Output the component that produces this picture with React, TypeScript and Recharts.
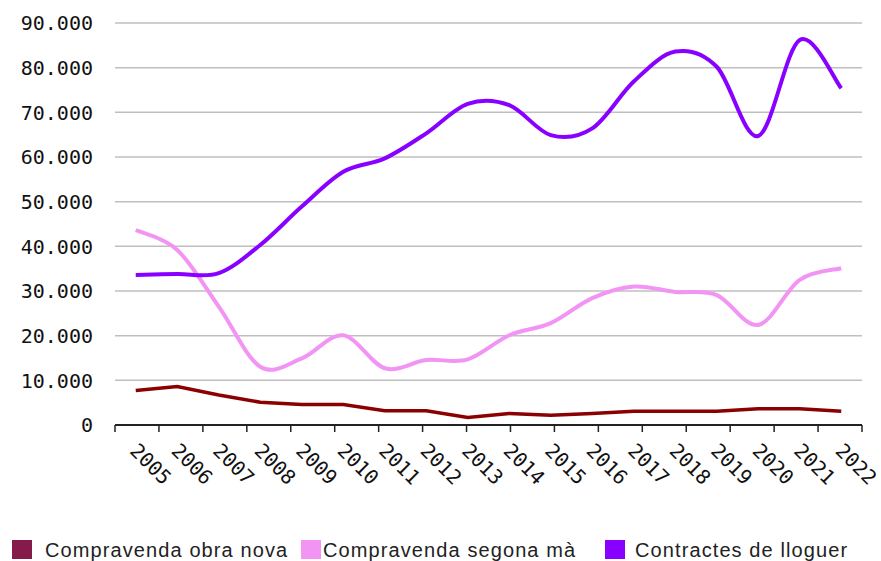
import React from 'react';
import { LineChart, Line, XAxis, YAxis, CartesianGrid } from 'recharts';

const years = ['2005', '2006', '2007', '2008', '2009', '2010', '2011', '2012', '2013', '2014', '2015', '2016', '2017', '2018', '2019', '2020', '2021', '2022'];
const obraNova = [7700, 8600, 6700, 5100, 4600, 4600, 3200, 3200, 1700, 2600, 2200, 2600, 3100, 3100, 3100, 3650, 3650, 3100];
const segonaMa = [43650, 39200, 26500, 13050, 14900, 20100, 12700, 14550, 14700, 20100, 22800, 28400, 31000, 29800, 29100, 22400, 32500, 35100];
const lloguer = [33600, 33800, 34000, 40300, 48900, 56700, 59700, 65300, 71900, 71600, 64900, 66400, 76900, 83600, 80200, 64700, 86200, 75400];
const yTicks = [0, 10000, 20000, 30000, 40000, 50000, 60000, 70000, 80000, 90000];

const seriesNames = ['Compravenda obra nova', 'Compravenda segona mà', 'Contractes de lloguer'];
const lineColors = ['#8B0000', '#F294F4', '#8800FF'];
const swatchColors = ['#841B4A', '#F294F4', '#8800FF'];

const data = years.map((year, i) => ({
  year,
  obra: obraNova[i],
  segona: segonaMa[i],
  lloguer: lloguer[i],
}));

const boundaryTicks = Array.from({ length: years.length + 1 }, (_, i) => i);

// Catmull-Rom style smoothing (like spreadsheet "smoothed line")
const smoothCurve = (context: any) => {
  let xs: number[] = [];
  let ys: number[] = [];
  return {
    areaStart() {},
    areaEnd() {},
    lineStart() {
      xs = [];
      ys = [];
    },
    point(x: number, y: number) {
      xs.push(+x);
      ys.push(+y);
    },
    lineEnd() {
      const n = xs.length;
      if (!n) return;
      context.moveTo(xs[0], ys[0]);
      for (let i = 0; i < n - 1; i++) {
        const p0 = Math.max(0, i - 1);
        const p3 = Math.min(n - 1, i + 2);
        const c1x = xs[i] + (xs[i + 1] - xs[p0]) / 6;
        const c1y = ys[i] + (ys[i + 1] - ys[p0]) / 6;
        const c2x = xs[i + 1] - (xs[p3] - xs[i]) / 6;
        const c2y = ys[i + 1] - (ys[p3] - ys[i]) / 6;
        context.bezierCurveTo(c1x, c1y, c2x, c2y, xs[i + 1], ys[i + 1]);
      }
    },
  };
};

const fmt = (v: number) => v.toString().replace(/\B(?=(\d{3})+(?!\d))/g, '.');

const tickFont = '"DejaVu Sans Mono", "Liberation Mono", monospace';

const YTick = (props: any) => {
  const { x, y, payload } = props;
  return (
    <text x={x} y={y} dy="0.36em" textAnchor="end" fontFamily={tickFont} fontSize={20} fill="#111">
      {fmt(payload.value)}
    </text>
  );
};

const XTick = (props: any) => {
  const { x, y, payload } = props;
  return (
    <text
      transform={`translate(${x - 7},${y + 26}) rotate(45)`}
      textAnchor="start"
      fontFamily={tickFont}
      fontSize={20}
      fill="#111"
    >
      {payload.value}
    </text>
  );
};

const EmptyTick = () => <g />;

const swatchLefts = [12, 301, 605];
const textLefts = [45, 323, 635];

export default function App() {
  return (
    <div style={{ position: 'absolute', left: 0, top: 0, width: 881, height: 561, background: '#fff' }}>
      <LineChart width={881} height={561} data={data} margin={{ top: 23, right: 19, left: 0, bottom: 36 }}>
        <CartesianGrid vertical={false} stroke="#BFBFBF" strokeWidth={1.5} xAxisId="b" />
        <XAxis
          xAxisId="a"
          type="number"
          domain={[0, years.length]}
          ticks={boundaryTicks}
          allowDataOverflow
          interval={0}
          tick={EmptyTick}
          tickSize={7}
          tickLine={{ stroke: '#222', strokeWidth: 1.5 }}
          axisLine={{ stroke: '#222', strokeWidth: 2 }}
          height={1}
        />
        <XAxis
          xAxisId="b"
          dataKey="year"
          scale="band"
          interval={0}
          axisLine={false}
          tickLine={false}
          tickSize={0}
          tickMargin={0}
          height={99}
          tick={<XTick />}
        />
        <YAxis
          width={115}
          domain={[0, 90000]}
          ticks={yTicks}
          axisLine={false}
          tickLine={false}
          tickSize={0}
          tickMargin={22}
          tick={<YTick />}
        />
        <Line xAxisId="b" dataKey="obra" type="linear" stroke={lineColors[0]} strokeWidth={3.5} dot={false} isAnimationActive={false} />
        <Line xAxisId="b" dataKey="segona" type={smoothCurve as any} stroke={lineColors[1]} strokeWidth={4} dot={false} isAnimationActive={false} />
        <Line xAxisId="b" dataKey="lloguer" type={smoothCurve as any} stroke={lineColors[2]} strokeWidth={4} dot={false} isAnimationActive={false} />
      </LineChart>
      {seriesNames.map((name, i) => (
        <React.Fragment key={name}>
          <div style={{ position: 'absolute', left: swatchLefts[i], top: 540, width: 20, height: 19, background: swatchColors[i] }} />
          <div
            style={{
              position: 'absolute',
              left: textLefts[i],
              top: 539,
              fontFamily: '"Liberation Sans", Arial, sans-serif',
              fontSize: 20,
              lineHeight: '22px',
              letterSpacing: '1.1px',
              color: '#222',
              whiteSpace: 'nowrap',
            }}
          >
            {name}
          </div>
        </React.Fragment>
      ))}
    </div>
  );
}
